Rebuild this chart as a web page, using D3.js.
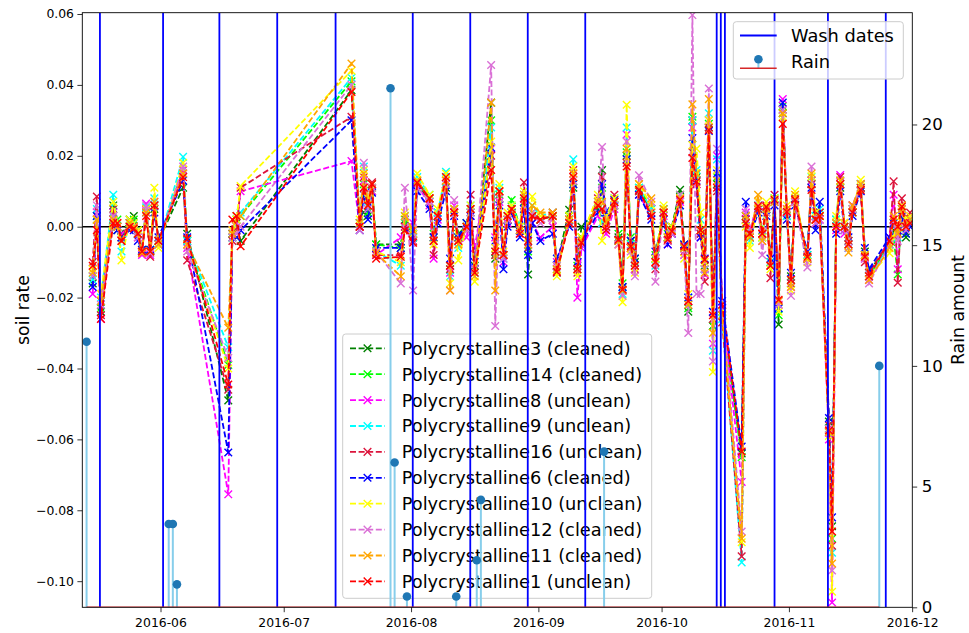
<!DOCTYPE html>
<html>
<head>
<meta charset="utf-8">
<script src="https://cdn.jsdelivr.net/npm/d3@7"></script>
<style>
  html, body { margin: 0; padding: 0; background: #fff; }
  svg { display: block; font-family: "DejaVu Sans", sans-serif; }
</style>
</head>
<body>
<svg id="chart" width="969" height="633"></svg>
<script>
// ---- sample timestamps shared by every panel series (UTC, "YYYY-MM-DD HH") ----
const sampleDates = [
  "2016-05-15 12","2016-05-16 12","2016-05-17 12","2016-05-20 12","2016-05-21 12","2016-05-22 12","2016-05-24 12","2016-05-25 12","2016-05-26 12","2016-05-27 12",
  "2016-05-28 12","2016-05-29 12","2016-05-30 12","2016-05-31 12","2016-06-06 12","2016-06-07 12","2016-06-17 12","2016-06-18 12","2016-06-19 12","2016-06-20 12",
  "2016-07-17 12","2016-07-19 12","2016-07-20 12","2016-07-21 12","2016-07-22 12","2016-07-23 12","2016-07-29 12","2016-07-30 12","2016-08-01 12","2016-08-02 12",
  "2016-08-05 12","2016-08-06 12","2016-08-07 12","2016-08-09 12","2016-08-10 12","2016-08-11 12","2016-08-12 12","2016-08-14 12","2016-08-15 12","2016-08-16 12",
  "2016-08-20 12","2016-08-21 12","2016-08-22 12","2016-08-23 12","2016-08-24 12","2016-08-25 12","2016-08-27 12","2016-08-28 12","2016-08-29 12","2016-08-30 12",
  "2016-09-01 12","2016-09-04 12","2016-09-05 12","2016-09-08 12","2016-09-09 12","2016-09-10 12","2016-09-11 12","2016-09-15 12","2016-09-16 12","2016-09-17 12",
  "2016-09-19 12","2016-09-20 12","2016-09-21 12","2016-09-22 12","2016-09-23 12","2016-09-24 12","2016-09-25 12","2016-09-28 12","2016-09-29 12","2016-10-01 12",
  "2016-10-02 12","2016-10-03 12","2016-10-05 12","2016-10-06 12","2016-10-07 12","2016-10-08 12","2016-10-09 12","2016-10-10 12","2016-10-11 12","2016-10-12 12",
  "2016-10-13 12","2016-10-14 12","2016-10-15 18","2016-10-20 12","2016-10-21 12","2016-10-22 12","2016-10-24 12","2016-10-25 12","2016-10-26 12","2016-10-27 12",
  "2016-10-28 12","2016-10-29 12","2016-10-30 12","2016-10-31 12","2016-11-01 12","2016-11-02 12","2016-11-05 12","2016-11-06 12","2016-11-07 12","2016-11-08 12",
  "2016-11-10 18","2016-11-11 12","2016-11-12 12","2016-11-13 12","2016-11-14 12","2016-11-15 12","2016-11-16 12","2016-11-18 12","2016-11-19 12","2016-11-20 12",
  "2016-11-25 12","2016-11-26 12","2016-11-27 12","2016-11-28 12","2016-11-29 12","2016-11-30 12"
];

// ---- soil rate per panel ----
const poly3 = [
  -0.016,0.002,-0.024,0.006,-0.001,-0.002,0.002,0.003,-0.002,-0.007,
  0.005,-0.007,0.005,-0.004,0.011,-0.002,-0.049,-0.003,0.001,-0.004,
  0.0385,0.001,0.004,0.003,0.010,-0.005,-0.005,0.002,-0.003,0.012,
  0.007,-0.003,0.003,0.011,-0.011,0.004,-0.002,0.000,0.004,-0.011,
  0.035,-0.009,0.008,-0.008,0.002,0.005,-0.001,0.007,-0.0135,0.003,
  0.002,0.003,-0.011,0.0048,0.011,-0.010,0.000,0.005,0.016,0.001,
  0.006,-0.003,-0.017,0.020,-0.004,-0.010,0.010,0.005,-0.009,0.004,
  -0.003,0.000,0.0104,-0.005,-0.024,0.030,0.014,-0.002,-0.011,0.028,
  -0.028,0.012,-0.024,-0.064,0.003,-0.002,0.005,-0.002,0.005,-0.010,
  0.007,-0.0276,0.032,0.004,-0.014,0.007,-0.008,0.012,0.002,0.003,
  -0.055,-0.0845,0.001,0.011,0.000,-0.004,0.005,0.011,-0.007,-0.013,
  -0.004,-0.001,-0.002,0.004,-0.003,0.001
];
const poly14 = [
  -0.014,0.003,-0.023,0.005,0.002,-0.003,0.001,0.002,-0.001,-0.0065,
  0.005,-0.0065,0.006,-0.004,0.016,-0.004,-0.039,-0.002,0.002,0.003,
  0.041,0.000,0.012,0.004,0.011,-0.005,-0.006,0.001,-0.002,0.013,
  0.008,-0.002,0.004,0.012,-0.012,0.005,-0.003,0.001,0.005,-0.012,
  0.030,-0.008,0.009,-0.008,0.003,0.0075,0.000,0.008,-0.007,0.004,
  0.002,0.003,-0.012,0.003,0.012,-0.011,-0.003,0.006,0.011,0.000,
  0.007,-0.002,-0.016,0.021,-0.003,-0.009,0.011,0.005,-0.008,0.005,
  -0.002,-0.001,0.009,-0.006,-0.023,0.031,0.015,-0.001,-0.012,0.029,
  -0.028,0.014,-0.025,-0.065,0.002,-0.003,0.006,-0.003,0.004,-0.011,
  0.008,-0.025,0.034,0.003,-0.015,0.008,-0.009,0.013,0.003,0.004,
  -0.057,-0.088,0.002,0.012,0.001,-0.005,0.004,0.012,-0.008,-0.014,
  -0.005,-0.003,-0.0135,0.005,-0.002,0.002
];
const poly8 = [
  -0.019,0.004,-0.026,0.004,0.001,-0.002,0.000,0.000,-0.003,-0.008,
  0.0065,-0.008,0.007,-0.005,0.016,-0.006,-0.0755,-0.001,0.000,0.010,
  0.0185,0.000,0.013,0.006,0.010,-0.008,-0.003,0.000,0.001,0.012,
  0.006,-0.009,0.002,0.012,-0.013,0.006,-0.005,-0.003,0.003,-0.006,
  0.022,-0.003,0.007,-0.010,0.001,0.004,-0.002,0.006,-0.005,0.001,
  -0.003,0.000,-0.010,0.001,0.015,-0.020,-0.006,0.003,0.001,-0.002,
  0.005,-0.005,-0.018,0.026,-0.006,-0.012,0.009,0.003,-0.010,0.003,
  -0.005,-0.002,0.007,-0.008,-0.021,0.028,0.012,-0.003,-0.0135,0.030,
  -0.033,0.020,-0.023,-0.072,0.004,-0.001,0.007,-0.004,0.006,-0.011,
  0.007,-0.022,0.036,0.005,-0.017,0.007,-0.009,0.013,0.001,0.002,
  -0.060,-0.106,-0.001,0.0146,-0.002,-0.005,0.006,0.012,-0.009,-0.015,
  -0.003,0.009,-0.012,0.006,0.000,0.003
];
const poly9 = [
  -0.015,0.005,-0.020,0.009,0.000,-0.007,0.001,0.001,-0.002,-0.007,
  0.0055,-0.007,0.008,-0.005,0.0197,-0.004,-0.034,-0.003,0.003,0.004,
  0.042,0.001,0.017,0.007,0.012,-0.007,-0.011,0.003,-0.003,0.014,
  0.009,-0.004,0.004,0.0155,-0.014,0.005,-0.006,0.000,0.006,-0.013,
  0.028,-0.007,0.011,-0.009,0.003,0.006,0.000,0.009,-0.006,0.006,
  0.003,0.004,-0.013,0.002,0.019,-0.012,-0.004,0.007,0.001,0.002,
  0.008,-0.004,-0.019,0.028,-0.005,-0.011,0.011,0.005,-0.011,0.005,
  -0.003,-0.001,0.008,-0.006,-0.020,0.030,0.016,0.002,-0.012,0.032,
  -0.035,0.019,-0.026,-0.0947,0.001,-0.004,0.006,-0.003,0.005,-0.010,
  0.008,-0.023,0.033,0.003,-0.016,0.008,-0.008,0.014,0.003,0.005,
  -0.058,-0.092,0.002,0.013,0.000,-0.006,0.005,0.012,-0.008,-0.014,
  -0.005,0.001,-0.003,0.005,-0.001,0.002
];
const poly16 = [
  -0.010,0.0085,-0.025,0.005,0.000,-0.003,0.001,0.000,-0.002,-0.0075,
  0.005,-0.0085,0.006,-0.004,0.015,-0.0095,-0.046,-0.004,-0.001,0.011,
  0.031,0.000,0.014,0.008,0.0125,-0.008,-0.008,0.000,-0.004,0.0125,
  0.008,-0.008,0.003,0.013,-0.012,0.004,-0.004,-0.001,0.009,-0.012,
  0.020,-0.008,0.010,-0.008,0.002,0.005,-0.001,0.0125,-0.006,0.003,
  0.002,0.004,-0.013,0.002,0.016,-0.013,-0.004,0.008,0.014,0.000,
  0.009,-0.004,-0.018,0.018,-0.006,-0.012,0.010,0.004,-0.012,0.004,
  -0.004,-0.001,0.008,-0.007,-0.021,0.021,0.012,-0.002,-0.0155,0.028,
  -0.026,0.010,-0.027,-0.093,0.002,-0.002,0.005,-0.002,0.006,-0.0145,
  0.009,-0.021,0.033,0.004,-0.016,0.008,-0.009,0.012,0.002,0.004,
  -0.056,-0.090,0.000,0.014,0.001,-0.004,0.006,0.011,-0.010,-0.013,
  -0.004,0.0128,-0.0158,0.008,0.001,0.004
];
const poly6 = [
  -0.017,0.003,-0.021,0.002,-0.001,-0.003,-0.001,-0.001,-0.004,-0.0065,
  0.004,-0.0065,0.004,-0.003,0.013,-0.003,-0.0637,-0.002,-0.003,-0.001,
  0.030,-0.001,0.009,0.002,0.0096,-0.006,-0.006,-0.001,-0.002,0.010,
  0.005,-0.003,0.001,0.010,-0.009,0.003,-0.003,0.001,0.003,-0.010,
  0.0223,-0.004,0.006,-0.012,0.000,0.004,-0.003,0.005,-0.008,0.001,
  -0.004,-0.002,-0.009,0.000,0.012,-0.010,-0.005,0.004,0.012,0.004,
  0.0076,-0.0037,-0.017,0.019,-0.004,-0.009,0.009,0.002,-0.007,0.002,
  -0.005,-0.002,0.006,-0.005,-0.020,0.025,0.013,-0.003,-0.009,0.027,
  -0.024,0.015,-0.021,-0.062,0.007,-0.003,0.004,-0.001,0.003,-0.009,
  0.006,-0.023,0.035,0.002,-0.013,0.006,-0.007,0.011,-0.001,0.007,
  -0.054,-0.082,-0.002,0.010,-0.001,-0.003,0.003,0.010,-0.006,-0.012,
  -0.003,0.001,-0.001,0.003,-0.002,0.000
];
const poly10 = [
  -0.012,0.002,-0.019,0.007,0.001,-0.0095,0.002,0.001,-0.001,-0.007,
  0.005,-0.007,0.011,-0.006,0.018,-0.005,-0.040,-0.001,0.002,0.0115,
  0.044,0.002,0.016,0.008,0.011,-0.007,-0.010,0.004,-0.002,0.015,
  0.009,-0.005,0.005,0.015,-0.016,0.005,-0.0095,0.000,0.006,-0.0155,
  0.024,-0.006,0.012,-0.007,0.004,0.006,0.000,0.010,-0.003,0.0085,
  0.003,0.003,-0.014,0.003,0.017,-0.014,-0.003,0.009,-0.004,0.003,
  0.008,-0.005,-0.0213,0.0344,-0.008,-0.013,0.012,0.006,-0.009,0.006,
  -0.003,0.000,0.008,-0.009,-0.019,0.023,0.022,0.004,-0.010,0.030,
  -0.041,0.016,-0.024,-0.089,0.000,-0.006,0.007,-0.003,0.007,-0.012,
  0.008,-0.024,0.031,0.006,-0.018,0.010,-0.010,0.0142,0.004,0.003,
  -0.059,-0.103,0.003,0.013,0.001,-0.005,0.005,0.0132,-0.008,-0.014,
  -0.0075,-0.003,0.001,0.006,0.002,0.003
];
const poly12 = [
  -0.014,0.006,-0.022,0.003,0.000,-0.004,0.000,0.000,-0.003,-0.007,
  0.006,-0.0075,0.006,-0.005,0.017,-0.007,-0.037,-0.003,-0.002,0.000,
  0.040,-0.001,0.018,0.005,0.011,-0.007,-0.016,0.011,-0.018,0.011,
  0.007,-0.004,0.003,0.012,-0.018,0.0075,-0.004,-0.001,0.004,-0.012,
  0.0456,-0.028,0.008,-0.009,0.002,0.005,-0.002,0.008,-0.005,0.004,
  0.001,0.002,-0.011,0.001,0.013,-0.012,-0.005,0.006,0.0225,-0.001,
  0.006,-0.005,-0.0195,0.024,-0.007,-0.014,0.0145,0.007,-0.0155,0.004,
  -0.004,-0.002,0.009,-0.008,-0.030,0.0597,-0.019,-0.019,-0.012,0.039,
  -0.038,0.022,-0.022,-0.086,0.005,-0.001,0.006,-0.008,0.004,-0.011,
  0.007,-0.022,0.033,0.004,-0.0195,0.007,-0.0115,0.017,0.001,0.002,
  -0.057,-0.097,0.000,0.012,-0.001,-0.006,0.005,0.012,-0.009,-0.016,
  -0.005,0.002,-0.004,0.005,-0.001,0.001
];
const poly11 = [
  -0.013,0.002,-0.021,0.002,0.000,-0.004,0.001,0.000,-0.002,-0.0075,
  0.004,-0.007,0.007,-0.005,0.015,-0.005,-0.0285,-0.002,0.003,0.003,
  0.046,0.001,0.015,0.006,0.012,-0.0075,-0.014,0.003,-0.001,0.013,
  0.008,-0.004,0.003,0.013,-0.018,0.005,-0.005,0.000,0.005,-0.014,
  0.035,-0.018,0.010,-0.008,0.003,0.005,-0.001,0.009,-0.005,0.006,
  0.004,0.004,-0.012,0.002,0.015,-0.012,-0.004,0.007,0.007,0.001,
  0.007,-0.004,-0.018,0.022,-0.006,-0.011,0.012,0.008,-0.010,0.005,
  -0.003,-0.001,0.008,-0.006,-0.022,0.0345,0.015,-0.001,-0.013,0.036,
  -0.030,0.013,-0.025,-0.088,0.003,-0.003,0.009,-0.004,0.005,-0.011,
  0.007,-0.021,0.032,0.005,-0.017,0.009,-0.009,0.015,0.002,0.003,
  -0.058,-0.095,0.001,0.013,0.000,-0.0073,0.006,0.012,-0.008,-0.015,
  -0.006,0.003,-0.002,0.005,0.000,0.002
];
const poly1 = [
  -0.011,-0.001,-0.026,0.001,0.001,-0.004,0.000,-0.0005,-0.002,-0.007,
  0.003,-0.007,0.006,-0.004,0.014,-0.0035,-0.0445,0.002,0.003,-0.0055,
  0.038,0.000,0.011,0.006,0.012,-0.009,-0.0085,-0.001,-0.0045,0.0124,
  0.008,-0.004,0.003,0.014,-0.011,0.004,-0.004,0.000,0.005,-0.013,
  0.016,-0.007,0.010,-0.008,0.003,0.005,-0.002,0.008,-0.004,0.003,
  0.002,0.003,-0.0127,0.001,0.014,-0.012,-0.0045,0.006,0.005,-0.001,
  0.007,-0.0037,-0.0177,0.017,-0.0055,-0.011,0.0104,0.003,-0.010,0.004,
  -0.0037,-0.0013,0.0076,-0.0055,-0.021,0.0194,0.0127,-0.001,-0.0093,0.0273,
  -0.025,0.011,-0.022,-0.0634,0.001,-0.002,0.0058,-0.002,0.0056,-0.011,
  0.0076,-0.0206,0.029,0.0042,-0.015,0.0076,-0.0085,0.0104,0.002,0.003,
  -0.0575,-0.086,0.000,0.012,0.000,-0.005,0.004,0.0104,-0.0085,-0.014,
  -0.004,0.002,0.000,0.0057,0.000,0.001
];

const seriesNames = [
  "Polycrystalline3 (cleaned)","Polycrystalline14 (cleaned)","Polycrystalline8 (unclean)",
  "Polycrystalline9 (unclean)","Polycrystalline16 (unclean)","Polycrystalline6 (cleaned)",
  "Polycrystalline10 (unclean)","Polycrystalline12 (cleaned)","Polycrystalline11 (cleaned)",
  "Polycrystalline1 (unclean)"
];
const seriesColors = ["green","lime","magenta","cyan","crimson","blue","yellow","orchid","orange","red"];
const seriesValues = [poly3, poly14, poly8, poly9, poly16, poly6, poly10, poly12, poly11, poly1];

// ---- panel washing events ----
const washDates = [
  "2016-05-17 06","2016-06-01 15","2016-06-15 08","2016-06-29 10","2016-07-13 15",
  "2016-08-01 10","2016-08-15 10","2016-08-29 10","2016-09-12 10","2016-10-14 10",
  "2016-10-15 10","2016-10-16 10","2016-10-28 12","2016-11-10 12","2016-11-24 14"
];

// ---- rainfall ----
const rainDates = [
  "2016-05-14 00","2016-06-03 00","2016-06-04 00","2016-06-05 00","2016-07-27 00","2016-07-28 00",
  "2016-07-31 00","2016-08-12 00","2016-08-17 00","2016-08-18 00","2016-09-17 00","2016-11-23 00"
];
const rainAmounts = [11.0, 3.45, 3.45, 0.95, 21.5, 6.0, 0.45, 0.45, 1.95, 4.45, 6.45, 10.0];

// ---- axis ticks ----
const soilTicks = [-0.10, -0.08, -0.06, -0.04, -0.02, 0.00, 0.02, 0.04, 0.06];
const rainTicks = [0, 5, 10, 15, 20];
const monthTicks = ["2016-06-01 00","2016-07-01 00","2016-08-01 00","2016-09-01 00","2016-10-01 00","2016-11-01 00","2016-12-01 00"];

// ---------------------------------------------------------------------------
const parseTime = d3.utcParse("%Y-%m-%d %H");
const dates = sampleDates.map(parseTime);

const plot = { left: 82.3, right: 912.3, top: 12.7, bottom: 607.3 };
const FONT = "DejaVu Sans, sans-serif";

const x = d3.scaleUtc()
  .domain([parseTime("2016-05-12 23"), parseTime("2016-12-01 01")])
  .range([plot.left, plot.right]);
const y = d3.scaleLinear().domain([-0.10737, 0.06037]).range([plot.bottom, plot.top]);
const yRain = d3.scaleLinear().domain([0, 24.63]).range([plot.bottom, plot.top]);

const svg = d3.select("#chart");
svg.append("rect").attr("width", 969).attr("height", 633).attr("fill", "#fff");

svg.append("defs").append("clipPath").attr("id", "plotClip")
  .append("rect")
  .attr("x", plot.left).attr("y", plot.top)
  .attr("width", plot.right - plot.left).attr("height", plot.bottom - plot.top);

const xMark = "M-3.8,-3.8L3.8,3.8M-3.8,3.8L3.8,-3.8";
const dashes = "6,2.6";
const lineW = 1.8;

// ---- primary axes content: zero line + soil-rate series ----
const main = svg.append("g").attr("clip-path", "url(#plotClip)");
main.append("line")
  .attr("x1", plot.left).attr("x2", plot.right)
  .attr("y1", y(0)).attr("y2", y(0))
  .attr("stroke", "black").attr("stroke-width", 1.6);

const line = d3.line().x((d, i) => x(dates[i])).y(d => y(d));

seriesValues.forEach((vals, k) => {
  const g = main.append("g");
  g.append("path").datum(vals)
    .attr("d", line)
    .attr("fill", "none")
    .attr("stroke", seriesColors[k])
    .attr("stroke-width", lineW)
    .attr("stroke-dasharray", dashes);
  g.selectAll("path.mk").data(vals).join("path")
    .attr("class", "mk")
    .attr("d", xMark)
    .attr("transform", (d, i) => `translate(${x(dates[i])},${y(d)})`)
    .attr("fill", "none")
    .attr("stroke", seriesColors[k])
    .attr("stroke-width", 1.4);
});

// ---- series legend ----
const leg2 = { x: 342.7, y: 334, w: 309, h: 264.3, row0: 348.3, step: 25.9 };
const lg2 = svg.append("g");
lg2.append("rect")
  .attr("x", leg2.x).attr("y", leg2.y).attr("width", leg2.w).attr("height", leg2.h)
  .attr("rx", 3).attr("fill", "white").attr("fill-opacity", 0.8)
  .attr("stroke", "#cccccc").attr("stroke-width", 1);
seriesNames.forEach((name, k) => {
  const cy = leg2.row0 + k * leg2.step;
  lg2.append("line")
    .attr("x1", 350).attr("x2", 385).attr("y1", cy).attr("y2", cy)
    .attr("stroke", seriesColors[k]).attr("stroke-width", lineW).attr("stroke-dasharray", dashes);
  lg2.append("path").attr("d", xMark)
    .attr("transform", `translate(367.5,${cy})`)
    .attr("fill", "none").attr("stroke", seriesColors[k]).attr("stroke-width", 1.4);
  lg2.append("text")
    .attr("x", 401.7).attr("y", cy).attr("dy", "0.36em")
    .attr("font-family", FONT).attr("font-size", 17.8).attr("fill", "#000")
    .text(name);
});

// ---- secondary axes content: wash dates + rain stems ----
const twin = svg.append("g").attr("clip-path", "url(#plotClip)");
twin.selectAll("line.wash").data(washDates.map(parseTime)).join("line")
  .attr("class", "wash")
  .attr("x1", d => x(d)).attr("x2", d => x(d))
  .attr("y1", plot.top).attr("y2", plot.bottom)
  .attr("stroke", "blue").attr("stroke-width", 1.8);

const rainParsed = rainDates.map(parseTime);
twin.selectAll("line.stem").data(rainAmounts).join("line")
  .attr("class", "stem")
  .attr("x1", (d, i) => x(rainParsed[i])).attr("x2", (d, i) => x(rainParsed[i]))
  .attr("y1", yRain(0)).attr("y2", d => yRain(d))
  .attr("stroke", "skyblue").attr("stroke-width", 2);
twin.append("line")
  .attr("x1", x(d3.min(rainParsed))).attr("x2", x(d3.max(rainParsed)))
  .attr("y1", yRain(0)).attr("y2", yRain(0))
  .attr("stroke", "#d62728").attr("stroke-width", 1.5);
twin.selectAll("circle.rain").data(rainAmounts).join("circle")
  .attr("class", "rain")
  .attr("cx", (d, i) => x(rainParsed[i])).attr("cy", d => yRain(d))
  .attr("r", 4.3).attr("fill", "#1f77b4");

// ---- wash / rain legend ----
const lg1 = svg.append("g");
lg1.append("rect")
  .attr("x", 733.3).attr("y", 21.7).attr("width", 170).attr("height", 57.3)
  .attr("rx", 3).attr("fill", "white").attr("fill-opacity", 0.8)
  .attr("stroke", "#cccccc").attr("stroke-width", 1);
lg1.append("line").attr("x1", 740).attr("x2", 776.7).attr("y1", 35.5).attr("y2", 35.5)
  .attr("stroke", "blue").attr("stroke-width", 1.8);
lg1.append("text").attr("x", 791).attr("y", 35.5).attr("dy", "0.36em")
  .attr("font-family", FONT).attr("font-size", 17.8).attr("fill", "#000").text("Wash dates");
lg1.append("line").attr("x1", 758.4).attr("x2", 758.4).attr("y1", 68.3).attr("y2", 59.3)
  .attr("stroke", "skyblue").attr("stroke-width", 2);
lg1.append("line").attr("x1", 740).attr("x2", 776.7).attr("y1", 68.3).attr("y2", 68.3)
  .attr("stroke", "#d62728").attr("stroke-width", 1.5);
lg1.append("circle").attr("cx", 758.4).attr("cy", 59.3).attr("r", 4.3).attr("fill", "#1f77b4");
lg1.append("text").attr("x", 791).attr("y", 61.8).attr("dy", "0.36em")
  .attr("font-family", FONT).attr("font-size", 17.8).attr("fill", "#000").text("Rain");

// ---- axes ----
function styleAxis(g, size) {
  g.select(".domain").remove();
  g.selectAll(".tick line").attr("stroke", "#000").attr("stroke-width", 0.8);
  g.selectAll(".tick text").attr("fill", "#000").attr("font-family", FONT).attr("font-size", size);
  g.attr("font-family", FONT);
}

const gLeft = svg.append("g").attr("transform", `translate(${plot.left},0)`)
  .call(d3.axisLeft(y).tickValues(soilTicks).tickSize(4.9).tickPadding(3.4).tickFormat(d3.format(".2f")));
styleAxis(gLeft, 12.4);

const gRight = svg.append("g").attr("transform", `translate(${plot.right},0)`)
  .call(d3.axisRight(yRain).tickValues(rainTicks).tickSize(4.9).tickPadding(4.5).tickFormat(d3.format("d")));
styleAxis(gRight, 16.6);

const gBottom = svg.append("g").attr("transform", `translate(0,${plot.bottom})`)
  .call(d3.axisBottom(x).tickValues(monthTicks.map(parseTime)).tickSize(4.9).tickPadding(6)
    .tickFormat(d3.utcFormat("%Y-%m")));
styleAxis(gBottom, 12.4);

// spines
svg.append("rect")
  .attr("x", plot.left).attr("y", plot.top)
  .attr("width", plot.right - plot.left).attr("height", plot.bottom - plot.top)
  .attr("fill", "none").attr("stroke", "#000").attr("stroke-width", 0.9);

// axis titles
svg.append("text")
  .attr("transform", `translate(28.5,${(plot.top + plot.bottom) / 2}) rotate(-90)`)
  .attr("text-anchor", "middle").attr("font-family", FONT).attr("font-size", 17.3).attr("fill", "#000")
  .text("soil rate");
svg.append("text")
  .attr("transform", `translate(963.5,${(plot.top + plot.bottom) / 2}) rotate(-90)`)
  .attr("text-anchor", "middle").attr("font-family", FONT).attr("font-size", 17.3).attr("fill", "#000")
  .text("Rain amount");
</script>
</body>
</html>
